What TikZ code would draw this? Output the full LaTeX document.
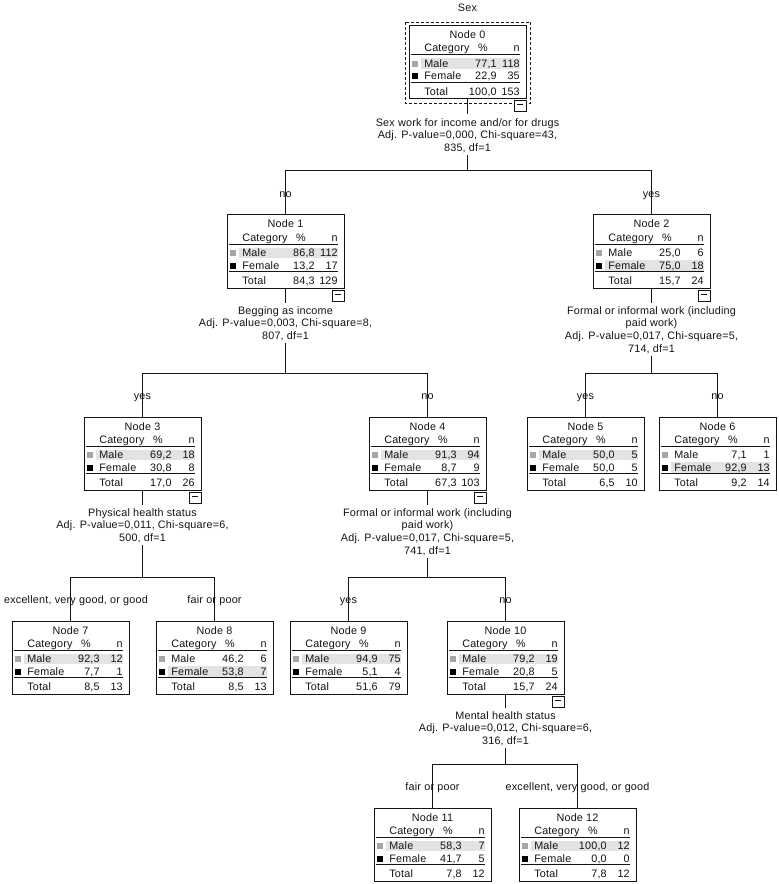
\documentclass[tikz,border=0pt]{standalone}
\usepackage{fontspec}
\setmainfont{Liberation Sans}[LetterSpace=2]
\definecolor{ink}{HTML}{141414}
\definecolor{hlgray}{HTML}{E3E3E3}
\definecolor{sqgray}{HTML}{A6A6A6}
\newcommand\fsz{\fontsize{8.1pt}{9.56pt}\selectfont}
\newcommand\fstrut{\rule{0pt}{8.6pt}}
\newcommand\lstrut{\rule[-2.6pt]{0pt}{2.6pt}}
\tikzset{
  txt/.style={inner sep=0pt, font=\fsz, text=ink},
  tbox/.style={draw=ink, line width=0.75pt, minimum width=87.75pt, minimum height=54.75pt, inner sep=0pt},
  split/.style={txt, align=center, anchor=north},
  lbl/.style={txt, anchor=base},
  conn/.style={draw=ink, line width=0.75pt},
  rowline/.style={draw=ink, line width=0.75pt},
}
\newcommand\tboxcore[9]{%
  \begin{scope}[shift={(#2,#3)}]
    \fill[hlgray] (12,\hlrow-9) rectangle (111,\hlrow+1.5);
    \node[tbox] (n#1) at (58.5,36.5) {};
    \node[txt,anchor=base] (n#1-title) at (58.5,13) {Node #1};
    \node[txt,anchor=base west] (n#1-cat) at (15,26) {Category};
    \node[txt,anchor=base] (n#1-pc) at (74,26) {\%};
    \node[txt,anchor=base east] (n#1-nh) at (111,26) {n};
    \draw[rowline] (2,29) -- (111,29);
    \fill[sqgray] (3,35) rectangle (9,41);
    \node[txt,anchor=base west] (n#1-m) at (15,41.5) {Male};
    \node[txt,anchor=base east] (n#1-mp) at (88,41.5) {#4};
    \node[txt,anchor=base east] (n#1-mn) at (111,41.5) {#5};
    \fill[black] (3,47.5) rectangle (9,53.5);
    \node[txt,anchor=base west] (n#1-f) at (15,54) {Female};
    \node[txt,anchor=base east] (n#1-fp) at (88,54) {#6};
    \node[txt,anchor=base east] (n#1-fn) at (111,54) {#7};
    \draw[rowline] (2,56.5) -- (111,56.5);
    \node[txt,anchor=base west] (n#1-t) at (15,69.5) {Total};
    \node[txt,anchor=base east] (n#1-tp) at (88,69.5) {#8};
    \node[txt,anchor=base east] (n#1-tn) at (111,69.5) {#9};
  \end{scope}}
\newcommand\tboxM{\def\hlrow{41.5}\tboxcore}
\newcommand\tboxF{\def\hlrow{54}\tboxcore}
\newcommand\minusbox[2]{%
  \begin{scope}[shift={(#1,#2)}]
    \draw[rowline, fill=white] (105,75) rectangle (117,86);
    \draw[rowline] (108,79) -- (114,79);
  \end{scope}}
\begin{document}
\begin{tikzpicture}[x=0.75pt,y=-0.75pt]
\useasboundingbox (0,0) rectangle (778,884);
\fill[white] (0,0) rectangle (778,884);

\node[lbl] (title) at (467.5,12) {Sex};

% boxes
\tboxM{0}{409}{26}{77,1}{118}{22,9}{35}{100,0}{153}
\tboxM{1}{227}{215}{86,8}{112}{13,2}{17}{84,3}{129}
\tboxF{2}{593}{215}{25,0}{6}{75,0}{18}{15,7}{24}
\tboxM{3}{84}{417}{69,2}{18}{30,8}{8}{17,0}{26}
\tboxM{4}{369}{417}{91,3}{94}{8,7}{9}{67,3}{103}
\tboxM{5}{527}{417}{50,0}{5}{50,0}{5}{6,5}{10}
\tboxF{6}{659}{417}{7,1}{1}{92,9}{13}{9,2}{14}
\tboxM{7}{12}{621}{92,3}{12}{7,7}{1}{8,5}{13}
\tboxF{8}{156}{621}{46,2}{6}{53,8}{7}{8,5}{13}
\tboxM{9}{290}{621}{94,9}{75}{5,1}{4}{51,6}{79}
\tboxM{10}{447}{621}{79,2}{19}{20,8}{5}{15,7}{24}
\tboxM{11}{374}{808}{58,3}{7}{41,7}{5}{7,8}{12}
\tboxM{12}{519}{808}{100,0}{12}{0,0}{0}{7,8}{12}

% selected node frame
\draw[ink, line width=0.75pt, dash pattern=on 2.25pt off 1.5pt] (405.5,22.5) rectangle (530.5,104);

% split texts
\node[split] (s0) at (467.5,114.5) {\fstrut Sex work for income and/or for drugs\\Adj. P-value=0,000, Chi-square=43,\\835, df=1\lstrut};
\node[split] (s1) at (285.5,302.5) {\fstrut Begging as income\\Adj. P-value=0,003, Chi-square=8,\\807, df=1\lstrut};
\node[split] (s2) at (651.5,302.5) {\fstrut Formal or informal work (including\\paid work)\\Adj. P-value=0,017, Chi-square=5,\\714, df=1\lstrut};
\node[split] (s3) at (142.5,504.5) {\fstrut Physical health status\\Adj. P-value=0,011, Chi-square=6,\\500, df=1\lstrut};
\node[split] (s4) at (427.5,504.5) {\fstrut Formal or informal work (including\\paid work)\\Adj. P-value=0,017, Chi-square=5,\\741, df=1\lstrut};
\node[split] (s10) at (505.5,707.5) {\fstrut Mental health status\\Adj. P-value=0,012, Chi-square=6,\\316, df=1\lstrut};

% junctions
\coordinate (j0) at (467.5,171);
\coordinate (j1) at (285.5,373);
\coordinate (j2) at (651.5,373);
\coordinate (j3) at (142.5,577);
\coordinate (j4) at (427.5,577);
\coordinate (j10) at (505.5,764);

% connectors
\foreach \p in {0,1,2,3,4,10}{
  \draw[conn] (n\p.south) -- (s\p.north);
  \draw[conn] (s\p.south) -- (j\p);
}
\draw[conn] (n1.north) |- (j0);
\draw[conn] (n2.north) |- (j0);
\draw[conn] (n3.north) |- (j1);
\draw[conn] (n4.north) |- (j1);
\draw[conn] (n5.north) |- (j2);
\draw[conn] (n6.north) |- (j2);
\draw[conn] (n7.north) |- (j3);
\draw[conn] (n8.north) |- (j3);
\draw[conn] (n9.north) |- (j4);
\draw[conn] (n10.north) |- (j4);
\draw[conn] (n11.north) |- (j10);
\draw[conn] (n12.north) |- (j10);

% minus boxes
\minusbox{409}{26}
\minusbox{227}{215}
\minusbox{593}{215}
\minusbox{84}{417}
\minusbox{369}{417}
\minusbox{447}{621}

% branch labels
\node[lbl] (e1) at (285.5,197.5) {no};
\node[lbl] (e2) at (651.5,197.5) {yes};
\node[lbl] (e3) at (142.5,399.5) {yes};
\node[lbl] (e4) at (427.5,399.5) {no};
\node[lbl] (e5) at (585.5,399.5) {yes};
\node[lbl] (e6) at (717.5,399.5) {no};
\node[lbl] (e7) at (76,603) {excellent, very good, or good};
\node[lbl] (e8) at (214.5,603) {fair or poor};
\node[lbl] (e9) at (348.5,603) {yes};
\node[lbl] (e10) at (505.5,603) {no};
\node[lbl] (e11) at (432.5,790) {fair or poor};
\node[lbl] (e12) at (577.5,790) {excellent, very good, or good};
\end{tikzpicture}
\end{document}
